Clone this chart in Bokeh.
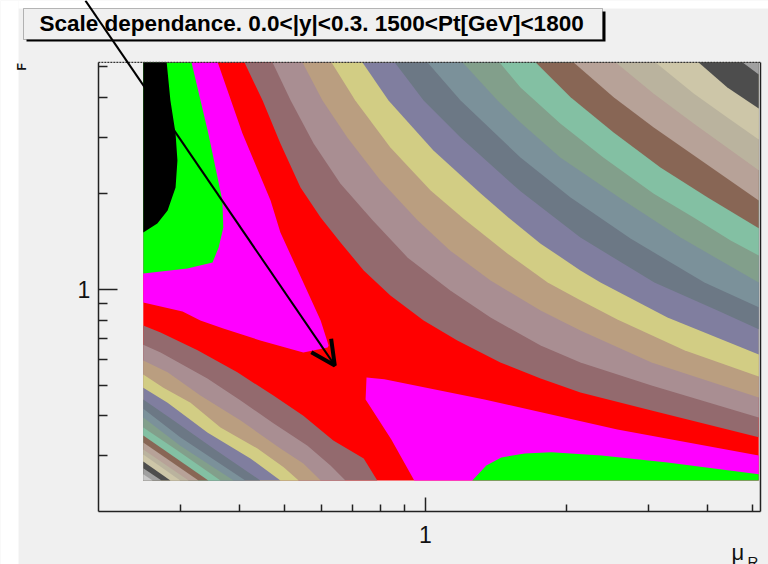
import numpy as np
from bokeh.plotting import figure
from bokeh.models import FixedTicker, Label, BoxAnnotation, Arrow, OpenHead, Range1d
from bokeh.embed import file_html
from bokeh.resources import INLINE

TITLE = "Scale dependance. 0.0<|y|<0.3. 1500<Pt[GeV]<1800"
MAJOR_TICKS = [1.0]
MINOR_TICKS = [0.3, 0.4, 0.5, 0.6, 0.7, 0.8, 0.9, 2, 3, 4, 5]
AXIS_R = (0.2, 5.197)
AXIS_F = (0.2005, 5.15)
VIEW_R = (0.12358, 5.406)
VIEW_F = (0.13677, 8.054)
ARROW_R = [0.1877, 0.640]
ARROW_F = [8.05, 0.5765]

# all contour boundaries are log10(mu_R), log10(mu_F)
FULL_R = [-.603, .712, .712, -.603]
FULL_F = [.712, .712, -.600, -.600]
MAG_L_R = [-.603,-.444,-.391,-.331,-.310,-.263,-.224,-.207,-.209,-.261,-.353,-.432,-.481,-.519,-.603]
MAG_L_F = [.712,.712,.489,.278,.178,.027,-.098,-.177,-.183,-.199,-.161,-.123,-.098,-.070,-.042]
GRN_L_R = [-.603,-.500,-.464,-.434,-.432,-.442,-.455,-.509,-.603]
GRN_L_F = [.712,.712,.489,.278,.194,.131,.084,.065,.049]
BLK_R = [-.603,-.553,-.545,-.534,-.530,-.534,-.551,-.573,-.603]
BLK_F = [.712,.712,.592,.489,.404,.319,.247,.206,.178]
MAG_R_R = [-.126,-.088,.126,.410,.712,.712,-.024,-.073,-.128]
MAG_R_F = [-.277,-.283,-.346,-.440,-.522,-.600,-.600,-.472,-.346]
GRN_R_R = [.100,.130,.162,.212,.269,.376,.517,.712,.712]
GRN_R_F = [-.600,-.553,-.528,-.516,-.512,-.522,-.544,-.581,-.600]

UR01_R = [-.387,-.348,-.310,-.267,-.224,-.182,-.132,-.075,-.004,.068,.160,.246,.331,.483,.712]
UR01_F = [.712,.592,.457,.319,.225,.147,.059,-.020,-.098,-.161,-.230,-.280,-.324,-.381,-.465]
UR02_R = [-.327,-.288,-.239,-.182,-.113,-.038,.053,.139,.246,.331,.483,.712]
UR02_F = [.712,.592,.457,.332,.216,.099,-.004,-.089,-.177,-.230,-.302,-.403]
UR03_R = [-.263,-.220,-.167,-.096,-.017,.053,.139,.246,.331,.483,.712]
UR03_F = [.712,.592,.476,.341,.216,.121,.027,-.067,-.130,-.230,-.340]
UR04_R = [-.201,-.150,-.075,.011,.081,.175,.261,.331,.410,.553,.712]
UR04_F = [.712,.592,.445,.310,.222,.112,.021,-.035,-.095,-.192,-.274]
UR05_R = [-.135,-.079,.017,.118,.177,.246,.331,.374,.517,.712]
UR05_F = [.712,.592,.435,.300,.225,.143,.059,.021,-.089,-.205]
UR06_R = [-.066,-.004,.075,.203,.331,.489,.624,.712]
UR06_F = [.712,.592,.476,.307,.162,.021,-.067,-.126]
UR07_R = [.004,.075,.203,.310,.438,.596,.712]
UR07_F = [.712,.592,.413,.288,.159,.021,-.057]
UR08_R = [.079,.154,.203,.288,.417,.545,.712]
UR08_F = [.712,.592,.523,.413,.285,.162,.021]
UR09_R = [.158,.203,.288,.380,.487,.573,.652,.712]
UR09_F = [.712,.633,.520,.413,.300,.225,.153,.106]
UR10_R = [.235,.310,.402,.502,.603,.712]
UR10_F = [.712,.602,.492,.382,.288,.191]
UR11_R = [.316,.402,.487,.573,.712]
UR11_F = [.712,.602,.508,.420,.278]
UR12_R = [.406,.487,.573,.712]
UR12_F = [.712,.614,.520,.373]
UR13_R = [.491,.573,.645,.712]
UR13_F = [.712,.614,.539,.470]
UR14_R = [.583,.645,.712]
UR14_F = [.712,.633,.567]
UR15_R = [.677,.712]
UR15_F = [.712,.674]

LL01_R = [-.603,-.566,-.487,-.402,-.325,-.261,-.197,-.132,-.103]
LL01_F = [-.114,-.136,-.192,-.261,-.334,-.397,-.475,-.531,-.600]
LL02_R = [-.603,-.566,-.466,-.395,-.325,-.252,-.203,-.171]
LL02_F = [-.174,-.199,-.280,-.349,-.421,-.491,-.553,-.600]
LL03_R = [-.603,-.551,-.481,-.395,-.310,-.261,-.224]
LL03_F = [-.224,-.261,-.334,-.412,-.500,-.547,-.600]
LL04_R = [-.603,-.560,-.502,-.438,-.359,-.303,-.271]
LL04_F = [-.268,-.309,-.356,-.434,-.500,-.559,-.600]
LL05_R = [-.603,-.551,-.466,-.374,-.310]
LL05_F = [-.309,-.356,-.450,-.531,-.600]
LL06_R = [-.603,-.538,-.453,-.353]
LL06_F = [-.346,-.412,-.500,-.600]
LL07_R = [-.603,-.524,-.385]
LL07_F = [-.375,-.465,-.600]
LL08_R = [-.603,-.524,-.410]
LL08_F = [-.403,-.491,-.600]
LL09_R = [-.603,-.530,-.438]
LL09_F = [-.434,-.506,-.600]
LL10_R = [-.603,-.464]
LL10_F = [-.459,-.600]
LL11_R = [-.603,-.485]
LL11_F = [-.481,-.600]
LL12_R = [-.603,-.506]
LL12_F = [-.503,-.600]
LL13_R = [-.603,-.524]
LL13_F = [-.519,-.600]
LL14_R = [-.603,-.545]
LL14_F = [-.541,-.600]
LL15_R = [-.603,-.564]
LL15_F = [-.562,-.600]
LL16_R = [-.603,-.583]
LL16_F = [-.581,-.600]

LEVEL_COLORS = ["#936a6e","#a98e92","#ba9e80","#d2cd84","#807e9f","#6c7885","#7b919a","#829f8b",
                "#83c0a3","#886655","#b7a298","#bab39e","#cdc6a8","#4d4d4d","#a0a0a0","#c8c8c8"]
BG = "#f0f0f0"

p = figure(width=768, height=564, x_axis_type="log", y_axis_type="log",
           x_range=Range1d(*VIEW_R), y_range=Range1d(*VIEW_F),
           output_backend="svg", toolbar_location=None,
           min_border_left=0, min_border_right=0, min_border_top=0, min_border_bottom=0)
p.border_fill_color = BG
p.background_fill_color = BG
p.grid.visible = False
p.outline_line_color = None

def screen_box(l, r, t, b, fill, line, level):
    p.add_layout(BoxAnnotation(left=l, right=r, top=t, bottom=b, left_units="screen", right_units="screen",
                               top_units="screen", bottom_units="screen", fill_color=fill, fill_alpha=1,
                               line_color=line, line_width=1, level=level))

# white page strips outside the canvas
screen_box(0, 18, 564, 0, "white", None, "underlay")
screen_box(18, 768, 564, 556, "white", None, "underlay")

def poly(lr, lf, color):
    p.patch(np.power(10.0, lr), np.power(10.0, lf), fill_color=color, line_color=None)

poly(FULL_R, FULL_F, "#ff0000")
poly(MAG_L_R, MAG_L_F, "#ff00ff")
poly(GRN_L_R, GRN_L_F, "#00ff00")
poly(BLK_R, BLK_F, "#000000")
poly(MAG_R_R, MAG_R_F, "#ff00ff")
poly(GRN_R_R, GRN_R_F, "#00ff00")

ur = [(UR01_R,UR01_F),(UR02_R,UR02_F),(UR03_R,UR03_F),(UR04_R,UR04_F),(UR05_R,UR05_F),
      (UR06_R,UR06_F),(UR07_R,UR07_F),(UR08_R,UR08_F),(UR09_R,UR09_F),(UR10_R,UR10_F),
      (UR11_R,UR11_F),(UR12_R,UR12_F),(UR13_R,UR13_F),(UR14_R,UR14_F),(UR15_R,UR15_F)]
for i, (a, b) in enumerate(ur):
    poly(a + [FULL_R[1]], b + [FULL_F[1]], LEVEL_COLORS[i])
ll = [(LL01_R,LL01_F),(LL02_R,LL02_F),(LL03_R,LL03_F),(LL04_R,LL04_F),(LL05_R,LL05_F),
      (LL06_R,LL06_F),(LL07_R,LL07_F),(LL08_R,LL08_F),(LL09_R,LL09_F),(LL10_R,LL10_F),
      (LL11_R,LL11_F),(LL12_R,LL12_F),(LL13_R,LL13_F),(LL14_R,LL14_F),(LL15_R,LL15_F),(LL16_R,LL16_F)]
for i, (a, b) in enumerate(ll):
    poly(a + [FULL_R[0]], b + [FULL_F[2]], LEVEL_COLORS[i])

# right and top frame lines
p.line([AXIS_R[1], AXIS_R[1]], list(AXIS_F), line_color="#222222", line_width=1.5)
p.line(list(AXIS_R), [AXIS_F[1], AXIS_F[1]], line_color="#333333", line_width=1.2, line_dash="2 1")

for ax, mi, ma in ((p.xaxis[0], 7, 14), (p.yaxis[0], 9, 19)):
    ax.ticker = FixedTicker(ticks=MAJOR_TICKS, minor_ticks=MINOR_TICKS)
    ax.major_label_overrides = {1: "1"}
    ax.major_tick_in, ax.major_tick_out = ma, 0
    ax.minor_tick_in, ax.minor_tick_out = mi, 0
    ax.axis_line_color = ax.major_tick_line_color = ax.minor_tick_line_color = "#222222"
    ax.axis_line_width = 1.5
    ax.major_tick_line_width = ax.minor_tick_line_width = 1.5
    ax.major_label_text_font = "Liberation Sans"
    ax.major_label_text_font_size = "23px"
    ax.major_label_text_color = "#111111"
p.xaxis[0].fixed_location = AXIS_F[0]
p.xaxis[0].bounds = AXIS_R
p.yaxis[0].fixed_location = AXIS_R[0]
p.yaxis[0].bounds = AXIS_F
p.xaxis[0].major_label_standoff = 14
p.yaxis[0].major_label_standoff = 8

screen_box(26, 605, 553, 523, "#000000", None, "overlay")
screen_box(23, 602, 556, 525, BG, "#222222", "overlay")
p.add_layout(Label(x=39, y=541, x_units="screen", y_units="screen", text=TITLE, text_align="left",
                   text_baseline="middle", text_font="Liberation Sans", text_font_style="bold",
                   text_font_size="22.5px", text_color="#000000", level="overlay"))
p.add_layout(Arrow(x_start=ARROW_R[0], y_start=ARROW_F[0], x_end=ARROW_R[1], y_end=ARROW_F[1],
                   line_color="#000000", line_width=2, level="overlay",
                   end=OpenHead(size=24, line_width=4, line_color="#000000")))
p.add_layout(Label(x=731, y=12, x_units="screen", y_units="screen", text="μ", text_font="Liberation Sans",
                   text_font_size="22px", text_color="#111111", text_baseline="alphabetic"))
p.add_layout(Label(x=747, y=3, x_units="screen", y_units="screen", text="R", text_font="Liberation Sans",
                   text_font_size="15px", text_color="#111111", text_baseline="alphabetic"))
p.add_layout(Label(x=21, y=494, x_units="screen", y_units="screen", text="F", angle=90, angle_units="deg",
                   text_font="Liberation Sans", text_font_size="12px", text_font_style="bold",
                   text_color="#111111", text_baseline="alphabetic", text_align="left"))

open("out.html", "w").write(file_html(p, INLINE))
